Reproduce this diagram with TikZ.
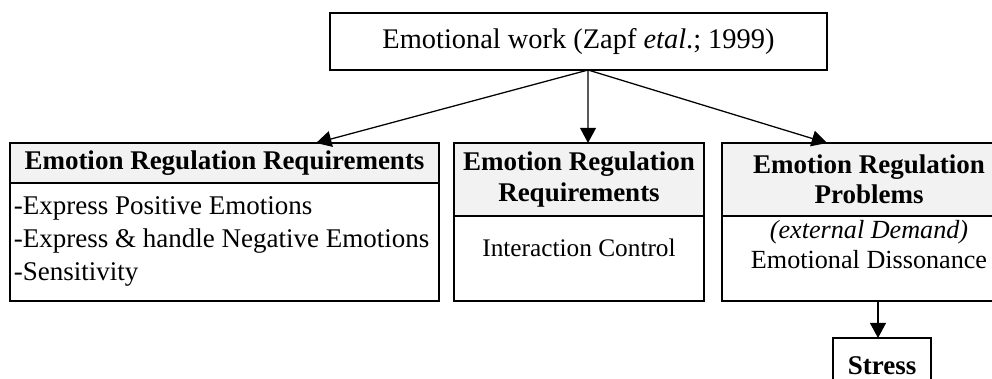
\documentclass[tikz,border=0pt]{standalone}
\usepackage{fontspec}
\setmainfont{Liberation Serif}
\usetikzlibrary{positioning,arrows.meta}

\tikzset{
  testo/.style={font=\fontsize{19.2pt}{21.5pt}\selectfont, outer sep=0pt},
  titolo/.style={testo, draw, line width=0.9pt, fill=black!5, font=\fontsize{19.2pt}{21.5pt}\selectfont\bfseries, align=center, inner sep=0pt},
  corpo/.style={testo, draw, line width=0.9pt, inner xsep=0.1cm, inner ysep=0pt},
  freccia/.style={-{Triangle[length=0.38cm,width=0.4cm]}, line width=0.9pt},
}

\begin{document}
\begin{tikzpicture}[x=0.025cm, y=-0.025cm]
  \useasboundingbox (0,0) rectangle (992,379);

  % Nodo principale
  \node[testo, font=\fontsize{20.2pt}{22pt}\selectfont, draw, line width=0.9pt, minimum width=12.425cm, minimum height=1.425cm] (lavoro) at (578.5,41.5) {Emotional work (Zapf \textit{etal}.; 1999)};

  % Intestazioni dei tre riquadri
  \node[titolo, minimum width=10.725cm, minimum height=1cm] (reqA) at (224.5,163) {Emotion Regulation Requirements};
  \node[titolo, minimum width=6.25cm, minimum height=1.825cm] (reqB) at (579,179.5) {Emotion Regulation\\Requirements};
  \node[titolo, minimum width=7.35cm, minimum height=1.825cm] (probl) at (869,179.5) {Emotion Regulation\\Problems};

  % Contenuti sotto le intestazioni
  \node[corpo, font=\fontsize{19.2pt}{23.5pt}\selectfont, below=0pt of reqA, text width=10.525cm, align=flush left, text height=0.775cm, text depth=2.175cm] (reqAtxt) {-Express Positive Emotions\\-Express \& handle Negative Emotions\\-Sensitivity};
  \node[corpo, font=\fontsize{18pt}{21.5pt}\selectfont, below=0pt of reqB, text width=6.05cm, align=flush center, text height=1cm, text depth=1.125cm] (reqBtxt) {Interaction Control};
  \node[corpo, font=\fontsize{18.6pt}{21.5pt}\selectfont, below=0pt of probl, text width=7.15cm, align=flush center, text height=0.55cm, text depth=1.575cm] (probltxt) {\textit{(external Demand)}\\Emotional Dissonance};

  % Esito
  \node[titolo, fill=white, minimum width=2.45cm, minimum height=1.4cm, below right=0.925cm and -0.9cm of probltxt.south] (stress) {Stress};

  % Frecce
  \draw[freccia] ([xshift=0.24cm]lavoro.south) -- ([xshift=2.29cm]reqA.north);
  \draw[freccia] ([xshift=0.24cm]lavoro.south) -- ([xshift=0.225cm]reqB.north);
  \draw[freccia] ([xshift=0.24cm]lavoro.south) -- ([xshift=-1.05cm]probl.north);
  \draw[freccia] ([xshift=-0.1cm]probltxt.south -| stress) -- ([xshift=-0.1cm]stress.north);

\end{tikzpicture}
\end{document}
